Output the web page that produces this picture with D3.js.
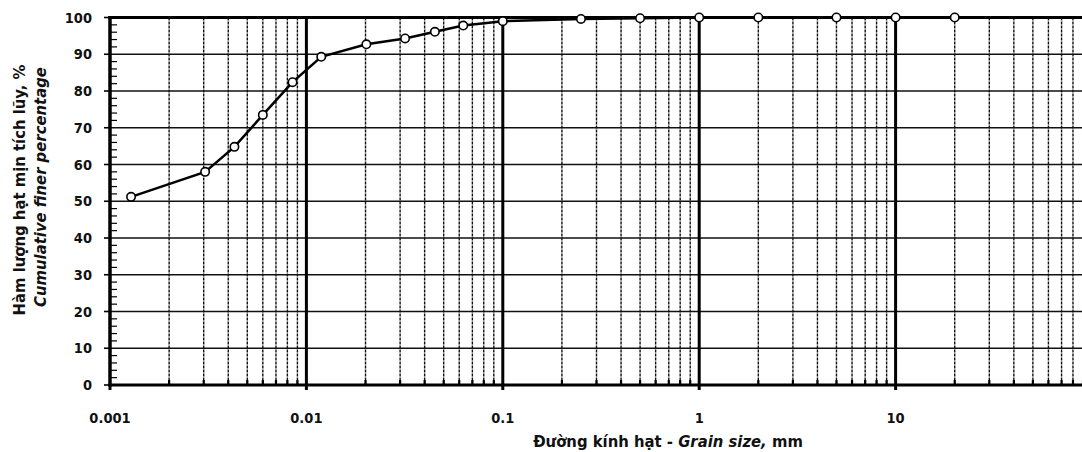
<!DOCTYPE html>
<html>
<head>
<meta charset="utf-8">
<script src="https://cdn.jsdelivr.net/npm/d3@7"></script>
<style>
  html, body { margin: 0; padding: 0; background: #fff; overflow: hidden; }
  svg { display: block; }
  .tick-label { font-family: "DejaVu Sans Condensed", "DejaVu Sans", sans-serif; font-size: 14.5px; font-weight: bold; fill: #111; }
  .axis-title { font-family: "DejaVu Sans Condensed", "DejaVu Sans", sans-serif; font-size: 16.5px; font-weight: bold; fill: #111; }
</style>
</head>
<body>
<svg id="chart" width="1082" height="452"></svg>
<script>
// Grain size distribution (sieve + hydrometer), cumulative percent finer
const grainSizes = [0.00128, 0.00305, 0.0043, 0.006, 0.0085, 0.0119, 0.0202, 0.0318, 0.0451, 0.0629, 0.1, 0.25, 0.5, 1, 2, 5, 10, 20];
const percentFiner = [51.2, 58.0, 64.8, 73.5, 82.4, 89.3, 92.7, 94.3, 96.1, 97.8, 99.0, 99.6, 99.8, 100, 100, 100, 100, 100];

const xTickValues = [0.001, 0.01, 0.1, 1, 10];
const xTickLabels = ["0.001", "0.01", "0.1", "1", "10"];
const yTickValues = [0, 10, 20, 30, 40, 50, 60, 70, 80, 90, 100];

const xTitleParts = ["Đường kính hạt - ", "Grain size,", " mm"];
const yTitleLine1 = "Hàm lượng hạt mịn tích lũy, %";
const yTitleLine2 = "Cumulative finer percentage";

const svg = d3.select("#chart");
const plotLeft = 110, plotRight = 1092, plotTop = 17.5, plotBottom = 385;

const x = d3.scaleLog().domain([0.001, 100]).range([plotLeft, plotRight]);
const y = d3.scaleLinear().domain([0, 100]).range([plotBottom, plotTop]);

// minor log values (2..9 per decade)
const minorValues = [];
for (let e = -3; e <= 1; e++) {
  for (let k = 2; k <= 9; k++) minorValues.push(k * Math.pow(10, e));
}

const g = svg.append("g");

// horizontal gridlines
g.append("g").selectAll("line").data(yTickValues.filter(v => v > 0 && v < 100)).join("line")
  .attr("x1", plotLeft).attr("x2", plotRight)
  .attr("y1", d => y(d)).attr("y2", d => y(d))
  .attr("stroke", "#111").attr("stroke-width", 1.5);

// minor vertical gridlines
g.append("g").selectAll("line").data(minorValues).join("line")
  .attr("x1", d => x(d)).attr("x2", d => x(d))
  .attr("y1", plotTop).attr("y2", plotBottom)
  .attr("stroke", "#111").attr("stroke-width", 1.4)
  .attr("stroke-dasharray", "3,1");

// minor ticks on the bottom axis
g.append("g").selectAll("line").data(minorValues).join("line")
  .attr("x1", d => x(d)).attr("x2", d => x(d))
  .attr("y1", plotBottom - 5).attr("y2", plotBottom)
  .attr("stroke", "#000").attr("stroke-width", 2.2);

// major decade lines
g.append("g").selectAll("line").data(xTickValues.slice(1)).join("line")
  .attr("x1", d => x(d)).attr("x2", d => x(d))
  .attr("y1", plotTop).attr("y2", plotBottom + 5)
  .attr("stroke", "#000").attr("stroke-width", 3);

// y-axis minor ticks every 2 %
const yMinor = d3.range(2, 100, 2).filter(v => v % 10 !== 0);
g.append("g").selectAll("line").data(yMinor).join("line")
  .attr("x1", plotLeft).attr("x2", plotLeft + 7)
  .attr("y1", d => y(d)).attr("y2", d => y(d))
  .attr("stroke", "#000").attr("stroke-width", 1.2);

// y-axis major ticks
g.append("g").selectAll("line").data(yTickValues).join("line")
  .attr("x1", plotLeft - 6).attr("x2", plotLeft)
  .attr("y1", d => y(d)).attr("y2", d => y(d))
  .attr("stroke", "#000").attr("stroke-width", 1.6);

// tick at 0.001 below the axis
g.append("line")
  .attr("x1", x(0.001)).attr("x2", x(0.001))
  .attr("y1", plotBottom).attr("y2", plotBottom + 5)
  .attr("stroke", "#000").attr("stroke-width", 3);

// frame: left, bottom, top
g.append("line").attr("x1", plotLeft).attr("x2", plotLeft).attr("y1", plotTop - 1.5).attr("y2", plotBottom + 1.5)
  .attr("stroke", "#000").attr("stroke-width", 3.5);
g.append("line").attr("x1", plotLeft - 1.5).attr("x2", plotRight).attr("y1", plotBottom).attr("y2", plotBottom)
  .attr("stroke", "#000").attr("stroke-width", 3.2);
g.append("line").attr("x1", plotLeft - 1.5).attr("x2", plotRight).attr("y1", plotTop).attr("y2", plotTop)
  .attr("stroke", "#000").attr("stroke-width", 3.2);

// tick labels
svg.append("g").selectAll("text").data(yTickValues).join("text")
  .attr("class", "tick-label")
  .attr("x", 92).attr("y", d => y(d)).attr("dy", "0.36em")
  .attr("text-anchor", "end")
  .text(d => d);

svg.append("g").selectAll("text").data(xTickValues).join("text")
  .attr("class", "tick-label")
  .attr("x", d => x(d)).attr("y", 423)
  .attr("text-anchor", "middle")
  .text((d, i) => xTickLabels[i]);

// x-axis title
const xt = svg.append("text").attr("class", "axis-title")
  .attr("x", 668).attr("y", 447).attr("text-anchor", "middle");
xt.append("tspan").text(xTitleParts[0]);
xt.append("tspan").attr("font-style", "italic").text(xTitleParts[1]);
xt.append("tspan").text(xTitleParts[2]);

// y-axis title (two lines)
svg.append("text").attr("class", "axis-title")
  .attr("transform", "translate(25,190) rotate(-90)")
  .attr("text-anchor", "middle")
  .text(yTitleLine1);
svg.append("text").attr("class", "axis-title")
  .attr("font-style", "italic")
  .attr("transform", "translate(46,187) rotate(-90)")
  .attr("text-anchor", "middle")
  .text(yTitleLine2);

// curve
const pts = grainSizes.map((d, i) => [d, percentFiner[i]]);
svg.append("path")
  .datum(pts)
  .attr("fill", "none")
  .attr("stroke", "#000")
  .attr("stroke-width", 2.5)
  .attr("d", d3.line().x(d => x(d[0])).y(d => y(d[1])));

svg.append("g").selectAll("circle").data(pts).join("circle")
  .attr("cx", d => x(d[0])).attr("cy", d => y(d[1]))
  .attr("r", 4.2)
  .attr("fill", "#fff").attr("stroke", "#000").attr("stroke-width", 1.6);
</script>
</body>
</html>
